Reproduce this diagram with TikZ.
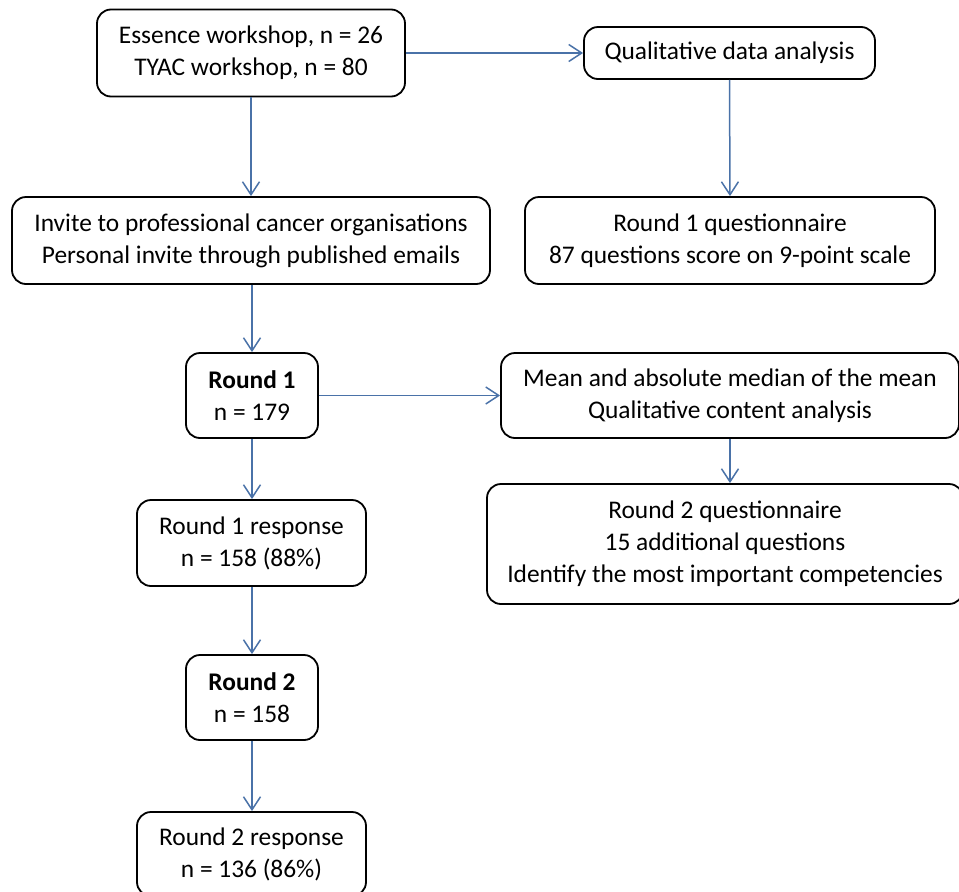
\documentclass[tikz,border=0pt]{standalone}
\usepackage{fontspec}
\setmainfont{Carlito}
\usetikzlibrary{arrows.meta}
\definecolor{arrowblue}{HTML}{4A72A8}
\tikzset{
  box/.style={draw=black, line width=1.8pt, rounded corners=14pt, align=center,
    inner sep=0pt, font=\fontsize{25.4}{32}\selectfont, fill=white},
  conn/.style={draw=arrowblue, line width=1.5pt, -{Straight Barb[length=13pt,width=17pt,line width=1.5pt]}}
}
\begin{document}
\begin{tikzpicture}[x=1pt,y=-1pt]
\useasboundingbox (0,0) rectangle (959,892);
\clip (0,0) rectangle (959,892);
\node[box, minimum width=308pt, minimum height=87pt] (ess) at (251,53) {Essence workshop, n = 26\\TYAC workshop, n = 80};
\node[box, minimum width=291pt, minimum height=52pt] (qda) at (729.5,53) {Qualitative data analysis};
\node[box, minimum width=478pt, minimum height=87pt] (inv) at (251,240.5) {Invite to professional cancer organisations\\Personal invite through published emails};
\node[box, minimum width=410pt, minimum height=87pt] (r1q) at (730,240.5) {Round 1 questionnaire\\87 questions score on 9-point scale};
\node[box, minimum width=132pt, minimum height=85pt] (r1) at (252,395.5) {\textbf{Round 1}\\n = 179};
\node[box, minimum width=458pt, minimum height=85pt] (mean) at (730,395.5) {Mean and absolute median of the mean\\Qualitative content analysis};
\node[box, minimum width=229pt, minimum height=86pt] (r1r) at (251.5,543) {Round 1 response\\n = 158 (88\%)};
\node[box, minimum width=476pt, minimum height=120pt] (r2q) at (725,544) {Round 2 questionnaire\\15 additional questions\\Identify the most important competencies};
\node[box, minimum width=132pt, minimum height=85pt] (r2) at (252,697.5) {\textbf{Round 2}\\n = 158};
\node[box, minimum width=229pt, minimum height=84pt] (r2r) at (251.5,854) {Round 2 response\\n = 136 (86\%)};
\draw[conn] (ess.east) -- (qda.west);
\draw[conn] (ess.south) -- (inv.north);
\draw[conn] (qda.south) -- (r1q.north);
\draw[conn] (inv.south -| r1.north) -- (r1.north);
\draw[conn] (r1.east) -- (mean.west);
\draw[conn] (mean.south) -- (mean.south |- r2q.north);
\draw[conn] (r1.south) -- (r1.south |- r1r.north);
\draw[conn] (r1r.south -| r2.north) -- (r2.north);
\draw[conn] (r2.south) -- (r2.south |- r2r.north);
\end{tikzpicture}
\end{document}
